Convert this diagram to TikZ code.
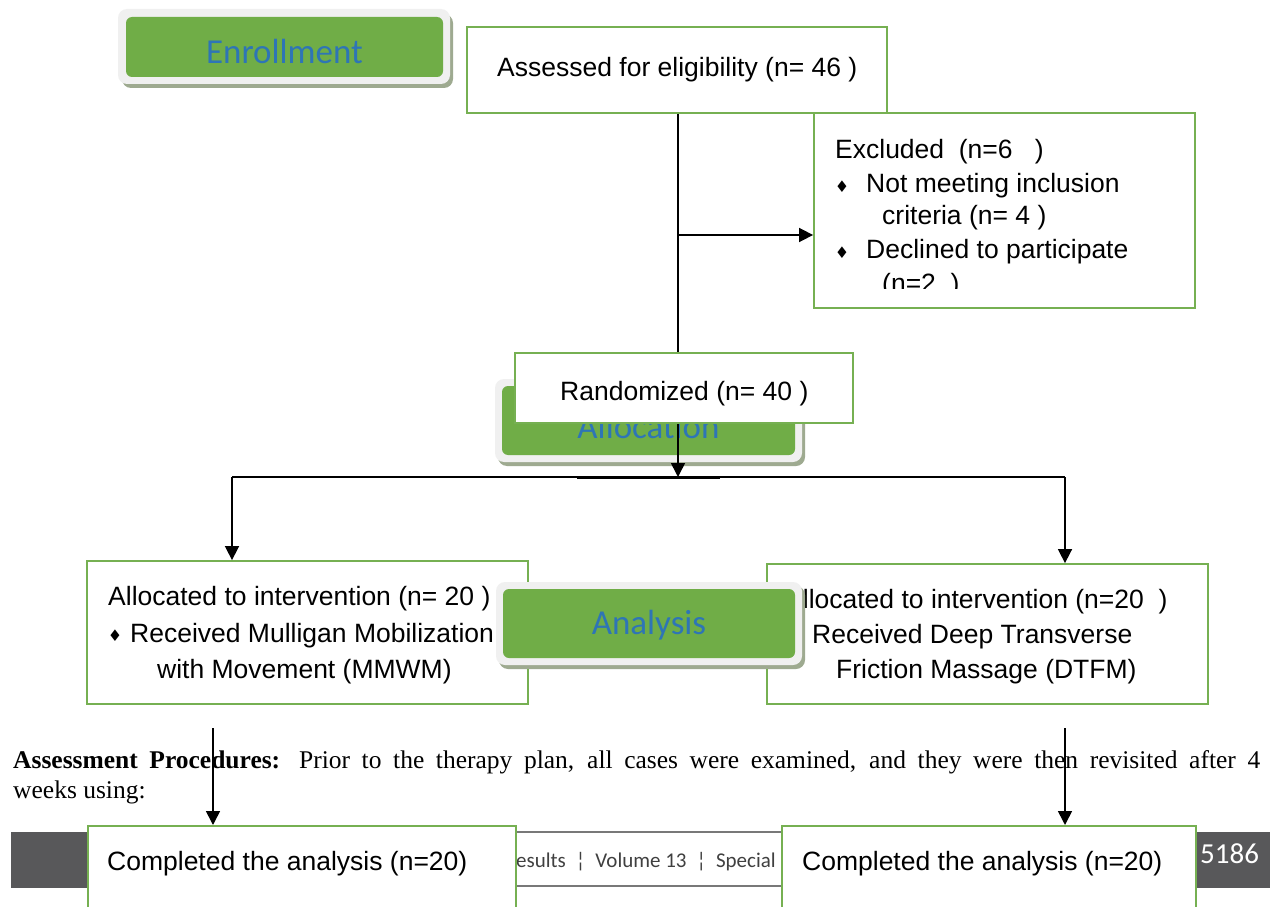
\documentclass[tikz,border=0pt]{standalone}
\usepackage{fontspec}
\setmainfont{Liberation Sans}
\newfontfamily\timesfont{Liberation Serif}
\newfontfamily\calfont{Carlito}
\newfontfamily\symfont{DejaVu Sans}
\usetikzlibrary{arrows.meta,calc}
\definecolor{boxgreen}{RGB}{118,176,82}
\definecolor{badgegreen}{RGB}{112,173,71}
\definecolor{badgeblue}{RGB}{46,117,182}
\definecolor{outerc}{RGB}{240,240,240}
\definecolor{shadowc}{RGB}{158,170,144}
\definecolor{footdark}{RGB}{88,88,90}
\definecolor{footline}{RGB}{120,120,120}
\definecolor{foottext}{RGB}{64,64,64}
\begin{document}
\begin{tikzpicture}[x=1pt,y=-1pt,
  box/.style={draw=boxgreen,line width=1.8pt,fill=white,inner sep=0pt},
  txt/.style={anchor=base west,inner sep=0pt,font=\fontsize{26.5}{30}\selectfont},
  bul/.style={anchor=center,inner sep=0pt,font=\symfont\fontsize{16}{16}\selectfont},
  link/.style={draw=black,line width=1.6pt},
  arrow/.style={link,-{Triangle[width=14pt,length=14pt]}},
  badgetext/.style={anchor=base,inner sep=0pt,font=\calfont\fontsize{35}{40}\selectfont,text=badgeblue},
  outer/.style={fill=outerc,rounded corners=9pt},
  shade/.style={fill=shadowc,rounded corners=9pt},
  inner/.style={fill=badgegreen,rounded corners=6pt}]
\useasboundingbox (0,0) rectangle (1270,907);
\fill[white] (0,0) rectangle (1270,907);

% footer band
\fill[footdark] (11,832) rectangle (120,888);
\draw[footline,line width=1.5pt] (120,832) -- (1197,832);
\draw[footline,line width=1.5pt] (120,886) -- (1197,886);
\fill[footdark] (1197,832) rectangle (1270,888);
\node[anchor=base west,inner sep=0pt,font=\calfont\fontsize{21}{24}\selectfont,text=foottext] (foot) at (516,867) {esults \ ¦ \ Volume 13 \ ¦ \ Special};
\node[anchor=base west,inner sep=0pt,font=\calfont\fontsize{29}{32}\selectfont,text=white] (page) at (1200,863) {5186};

% Enrollment badge
\path[shade] (122,14) rectangle (453,88);
\path[outer] (118,9) rectangle (450,84);
\path[inner] (126,17) rectangle (443,77);
\node[badgetext] (enroll) at (284.5,64) {Enrollment};

% Allocation badge
\path[shade] (498,383) rectangle (805,466);
\path[outer] (495,379) rectangle (802,462);
\path[inner] (502,386) rectangle (795,455);
\node[badgetext] (alloc) at (648.5,438) {Allocation};

% boxes
\node[box,minimum width=420pt,minimum height=86pt] (assessed) at (677,70) {};
\node[txt] (assessedtxt) at (497,77) {Assessed for eligibility (n= 46 )};

\node[box,minimum width=381pt,minimum height=195pt] (excl) at (1004.5,210.5) {};
\node[txt] (excl1) at (835,158) {Excluded\ \ (n=6\ \ \ )};
\node[bul] (b1) at (842,187) {♦};
\node[txt] (excl2) at (866,192) {Not meeting inclusion};
\node[txt] (excl3) at (882,224) {criteria (n= 4 )};
\node[bul] (b2) at (842,253) {♦};
\node[txt] (excl4) at (866,258) {Declined to participate};
\begin{scope}
\clip (814,113) rectangle (1195,288);
\node[txt] (excl5) at (882,292) {(n=2\ \ )};
\end{scope}

\node[box,minimum width=338pt,minimum height=70pt] (rand) at (684,388) {};
\node[txt] (randtxt) at (560,400) {Randomized (n= 40 )};

\node[box,minimum width=441pt,minimum height=143pt] (lalloc) at (307.5,632.5) {};
\node[txt] (la1) at (108,605) {Allocated to intervention (n= 20 )};
\node[bul] (b3) at (115,636) {♦};
\node[txt] (la2) at (130,642) {Received Mulligan Mobilization};
\node[txt] (la3) at (157,678) {with Movement (MMWM)};

\node[box,minimum width=441pt,minimum height=140pt] (ralloc) at (987.5,634) {};
\node[txt] (ra1) at (785,608) {Allocated to intervention (n=20\ \ )};
\node[txt] (ra2) at (812,643) {Received Deep Transverse};
\begin{scope}
\clip (767,564) rectangle (1208,683);
\node[txt] (ra3) at (836,678) {Friction Massage (DTFM)};
\end{scope}

\node[box,anchor=north west,minimum width=428pt,minimum height=120pt] (lcomp) at (87,825) {};
\node[txt] (lc) at (107,870) {Completed the analysis (n=20)};
\node[box,anchor=north west,minimum width=414pt,minimum height=120pt] (rcomp) at (781,825) {};
\node[txt] (rc) at (802,870) {Completed the analysis (n=20)};

% paragraph text
\node[anchor=base west,inner sep=0pt,font=\timesfont\fontsize{25.5}{30}\selectfont] (para1) at (13,768) {\hbox to 1247pt{\textbf{Assessment Procedures:} Prior to the therapy plan, all cases were examined, and they were then revisited after 4}};
\node[anchor=base west,inner sep=0pt,font=\timesfont\fontsize{25.5}{30}\selectfont] (para2) at (13,798) {weeks using:};

% connectors
\coordinate (trunk) at (678,0);
\coordinate (branch) at (678,235);
\coordinate (split) at (678,477);
\coordinate (lsplit) at (232,477);
\coordinate (rsplit) at (1065,477);
\coordinate (ldrop) at (213,728);
\coordinate (rdrop) at (1065,728);
\draw[link] (assessed.south -| trunk) -- (rand.north -| trunk);
\draw[arrow] (branch) -- (branch -| excl.west);
\draw[arrow] (rand.south -| trunk) -- (split);
\draw[link,line width=1.3pt] (lsplit) -- (rsplit);
\draw[link,line width=3pt] (577,477) -- (720,477);
\draw[arrow] (lsplit) -- (lsplit |- lalloc.north);
\draw[arrow] (rsplit) -- (rsplit |- ralloc.north);
\draw[arrow] (ldrop) -- (ldrop |- lcomp.north);
\draw[arrow] (rdrop) -- (rdrop |- rcomp.north);

% Analysis badge
\path[shade] (499,586) rectangle (805,669);
\path[outer] (496,582) rectangle (802,665);
\path[inner] (503,589) rectangle (795,658);
\node[badgetext] (analysis) at (649,634) {Analysis};
\end{tikzpicture}
\end{document}
